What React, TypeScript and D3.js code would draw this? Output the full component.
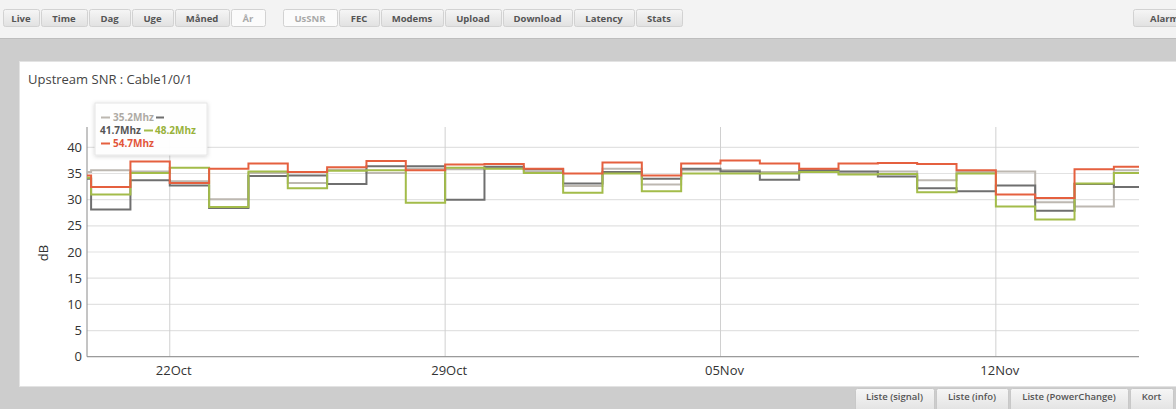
import React from "react";
import * as d3 from "d3";

const days = [
  "2017-10-19","2017-10-20","2017-10-21","2017-10-22","2017-10-23","2017-10-24","2017-10-25",
  "2017-10-26","2017-10-27","2017-10-28","2017-10-29","2017-10-30","2017-10-31","2017-11-01",
  "2017-11-02","2017-11-03","2017-11-04","2017-11-05","2017-11-06","2017-11-07","2017-11-08",
  "2017-11-09","2017-11-10","2017-11-11","2017-11-12","2017-11-13","2017-11-14","2017-11-15",
];
const domainStart = "2017-10-19T21:30:00Z";
const domainEnd = "2017-11-15T15:20:00Z";

const snr352 = [35.3,35.6,35.4,33.5,30.1,35.1,33.2,35.7,35.1,35.9,35.8,36.1,35.4,32.6,35.9,32.9,35.6,35.6,35.3,35.4,35.0,35.4,33.7,35.3,35.4,29.5,28.7,35.6];
const snr417 = [34.0,28.1,33.7,32.7,28.4,34.5,34.6,33.0,36.4,36.4,30.0,36.3,35.8,33.1,35.3,34.0,35.9,35.4,33.8,35.6,35.4,34.4,32.2,31.6,32.7,27.9,33.0,32.4];
const snr482 = [34.2,31.0,35.1,36.1,28.6,35.4,32.2,35.5,35.6,29.4,36.1,35.9,35.1,31.3,35.0,31.6,35.0,35.0,35.0,35.3,34.8,34.9,31.4,35.0,28.7,26.2,33.1,35.1];
const snr547 = [34.6,32.4,37.3,33.2,35.9,36.9,35.3,36.2,37.4,35.6,36.7,36.8,35.9,35.0,37.1,34.6,36.9,37.5,36.9,35.9,36.9,37.0,36.8,35.6,31.0,30.3,35.8,36.3];

const seriesNames = ["35.2Mhz", "41.7Mhz", "48.2Mhz", "54.7Mhz"];
const seriesColors = ["#bdb8b1", "#6f6f6f", "#a3bc4a", "#e5603f"];
const legendColors = ["#aeaaa4", "#555555", "#98b23a", "#e2553a"];

const yTicks = [0, 5, 10, 15, 20, 25, 30, 35, 40];
const xTickDates = ["2017-10-22", "2017-10-29", "2017-11-05", "2017-11-12"];
const xTickLabels = ["22Oct", "29Oct", "05Nov", "12Nov"];

const topButtons = [
  { label: "Live", x0: 3, x1: 39, sel: false },
  { label: "Time", x0: 41, x1: 87, sel: false },
  { label: "Dag", x0: 89, x1: 130, sel: false },
  { label: "Uge", x0: 132, x1: 173, sel: false },
  { label: "Måned", x0: 175, x1: 229, sel: false },
  { label: "År", x0: 231, x1: 265, sel: true },
  { label: "UsSNR", x0: 283, x1: 337, sel: true },
  { label: "FEC", x0: 339, x1: 379, sel: false },
  { label: "Modems", x0: 381, x1: 443, sel: false },
  { label: "Upload", x0: 445, x1: 501, sel: false },
  { label: "Download", x0: 503, x1: 572, sel: false },
  { label: "Latency", x0: 574, x1: 634, sel: false },
  { label: "Stats", x0: 636, x1: 682, sel: false },
  { label: "Alarm", x0: 1133, x1: 1196, sel: false },
];
const bottomButtons = [
  { label: "Liste (signal)", x0: 855, x1: 934 },
  { label: "Liste (info)", x0: 936, x1: 1008 },
  { label: "Liste (PowerChange)", x0: 1010, x1: 1128 },
  { label: "Kort", x0: 1130, x1: 1173 },
];

const FONT = "'Open Sans', 'DejaVu Sans', sans-serif";

export default function App() {
  const W = 1176, H = 409;
  const plotL = 87, plotR = 1139, plotB = 356.7, plotT = 127;
  const x = d3.scaleUtc().domain([new Date(domainStart), new Date(domainEnd)]).range([plotL, plotR]);
  const y = d3.scaleLinear().domain([0, 40]).range([plotB, 147.3]);
  const all = [snr352, snr417, snr482, snr547];
  const line = d3.line<{ d: Date; v: number }>().x(p => x(p.d)).y(p => y(p.v)).curve(d3.curveStepAfter);
  const paths = all.map(vals => {
    const pts = vals.map((v, i) => ({ d: i === 0 ? new Date(domainStart) : new Date(days[i] + "T00:00:00Z"), v }));
    pts.push({ d: new Date(domainEnd), v: vals[vals.length - 1] });
    return line(pts) || "";
  });

  return (
    <svg width={W} height={H} style={{ position: "absolute", left: 0, top: 0, fontFamily: FONT }}>
      <defs>
        <linearGradient id="btn" x1="0" y1="0" x2="0" y2="1">
          <stop offset="0" stopColor="#f6f6f6" />
          <stop offset="1" stopColor="#e1e1e1" />
        </linearGradient>
        <clipPath id="plot"><rect x={plotL} y={plotT - 5} width={plotR - plotL} height={plotB - plotT + 6} /></clipPath>
        <filter id="sh" x="-20%" y="-20%" width="140%" height="140%">
          <feDropShadow dx="0" dy="1" stdDeviation="2" floodColor="#000" floodOpacity="0.18" />
        </filter>
      </defs>
      {/* backgrounds */}
      <rect x={0} y={0} width={W} height={H} fill="#cdcdcd" />
      <rect x={0} y={0} width={W} height={38} fill="#f3f3f3" />
      <line x1={0} x2={W} y1={38.5} y2={38.5} stroke="#bdbdbd" />
      <rect x={19.5} y={61.5} width={W} height={325} fill="#ffffff" stroke="#e3e3e3" />

      {topButtons.map(b => (
        <g key={b.label}>
          <rect x={b.x0 + 0.5} y={9.5} width={b.x1 - b.x0} height={17} rx={2} fill={b.sel ? "#fbfbfb" : "url(#btn)"} stroke="#d2d2d2" />
          <text x={(b.x0 + b.x1) / 2} y={21.5} textAnchor="middle" fontSize={9.5} fontWeight={700} fill={b.sel ? "#a9a9a9" : "#555"}>{b.label}</text>
        </g>
      ))}

      <text x={28} y={84} fontSize={13} fill="#444">Upstream SNR : Cable1/0/1</text>

      {/* grid */}
      {yTicks.map(t => (
        <line key={t} x1={plotL} x2={plotR} y1={y(t)} y2={y(t)} stroke="#e2e2e2" strokeWidth={1.2} />
      ))}
      {xTickDates.map(t => (
        <line key={t} x1={x(new Date(t + "T00:00:00Z"))} x2={x(new Date(t + "T00:00:00Z"))} y1={plotT} y2={plotB} stroke="#d0d0d0" strokeWidth={1} />
      ))}
      <line x1={plotL} x2={plotL} y1={plotT} y2={plotB} stroke="#8a8a8a" strokeWidth={1} />
      <line x1={plotL} x2={plotR} y1={plotB} y2={plotB} stroke="#8a8a8a" strokeWidth={1} />

      {yTicks.map(t => (
        <text key={t} x={82} y={y(t) + 4.5} textAnchor="end" fontSize={13} fill="#333">{t}</text>
      ))}
      {xTickDates.map((t, i) => (
        <text key={t} x={x(new Date(t + "T00:00:00Z")) + 4} y={375} textAnchor="middle" fontSize={13} fill="#333">{xTickLabels[i]}</text>
      ))}
      <text transform={`translate(48,253) rotate(-90)`} textAnchor="middle" fontSize={13} fill="#333">dB</text>

      <g clipPath="url(#plot)">
        {paths.map((p, i) => (
          <path key={i} d={p} fill="none" stroke={seriesColors[i]} strokeWidth={2} strokeLinejoin="miter" />
        ))}
      </g>

      {/* legend */}
      <rect x={95} y={103} width={112} height={52} fill="#fff" fillOpacity={0.95} stroke="#e6e6e6" filter="url(#sh)" />
      <g fontSize={10} fontWeight={700}>
        <line x1={101} x2={110} y1={117.5} y2={117.5} stroke={seriesColors[0]} strokeWidth={2} />
        <text x={113} y={121} fill={legendColors[0]}>{seriesNames[0]}</text>
        <line x1={156} x2={164} y1={117.5} y2={117.5} stroke={seriesColors[1]} strokeWidth={2} />
        <text x={100} y={134} fill={legendColors[1]}>{seriesNames[1]}</text>
        <line x1={144} x2={153} y1={130.5} y2={130.5} stroke={seriesColors[2]} strokeWidth={2} />
        <text x={155} y={134} fill={legendColors[2]}>{seriesNames[2]}</text>
        <line x1={101} x2={110} y1={143.5} y2={143.5} stroke={seriesColors[3]} strokeWidth={2} />
        <text x={113} y={147} fill={legendColors[3]}>{seriesNames[3]}</text>
      </g>

      {bottomButtons.map(b => (
        <g key={b.label}>
          <rect x={b.x0 + 0.5} y={388.5} width={b.x1 - b.x0} height={24} rx={2} fill="url(#btn)" stroke="#c8c8c8" />
          <text x={(b.x0 + b.x1) / 2} y={399.5} textAnchor="middle" fontSize={9.5} fontWeight={600} fill="#555">{b.label}</text>
        </g>
      ))}
    </svg>
  );
}
